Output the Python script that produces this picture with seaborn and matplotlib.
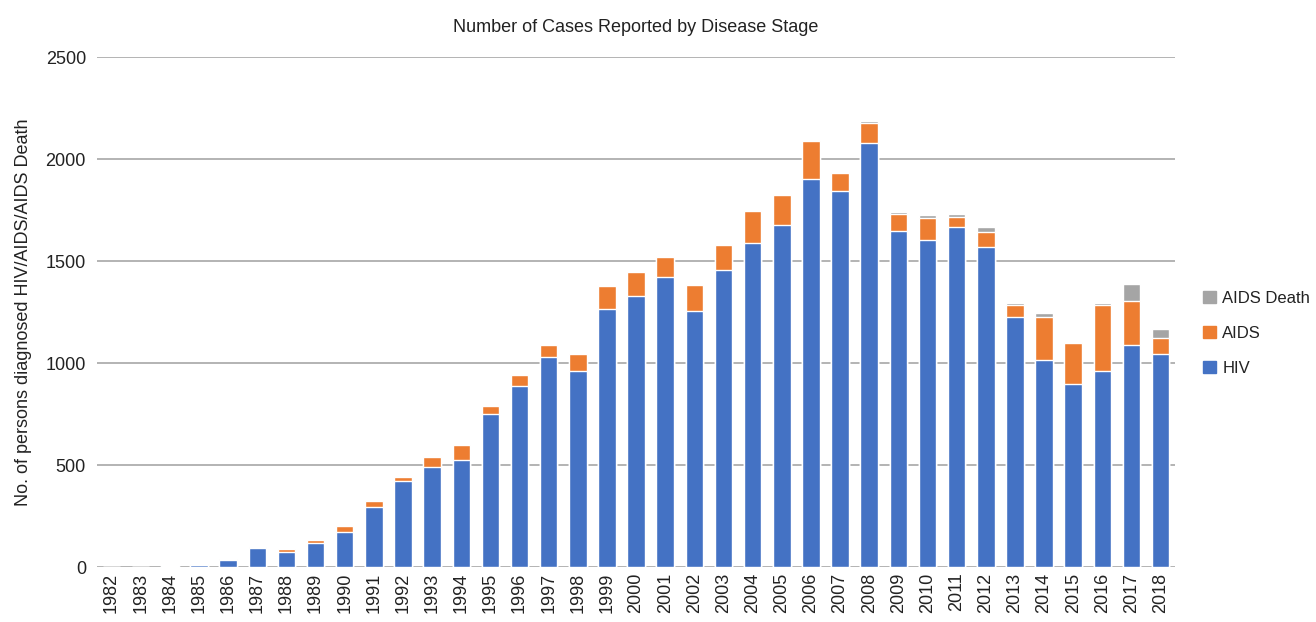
import matplotlib
matplotlib.use("Agg")
import matplotlib.pyplot as plt
from matplotlib.patches import Patch
import seaborn as sns
import pandas as pd
import numpy as np

years = [str(y) for y in range(1982, 2019)]
hiv = [2, 2, 3, 10, 36, 93, 72, 118, 171, 295, 421, 490, 526, 752, 889, 1031, 963,
       1265, 1328, 1421, 1255, 1456, 1590, 1676, 1905, 1843, 2077, 1646, 1603, 1667,
       1569, 1227, 1015, 897, 961, 1088, 1046]
aids = [0, 0, 0, 4, 5, 7, 18, 13, 28, 27, 19, 49, 74, 39, 54, 56, 81,
        113, 118, 98, 127, 125, 158, 149, 182, 87, 99, 86, 109, 50,
        73, 59, 209, 200, 323, 217, 78]
aids_death = [0, 0, 0, 0, 0, 0, 0, 0, 0, 0, 0, 0, 0, 0, 0, 0, 0,
              0, 0, 2, 0, 2, 3, 6, 2, 5, 10, 8, 12, 12,
              23, 8, 21, 7, 10, 81, 41]

df = pd.DataFrame({"Year": years, "HIV": hiv, "AIDS": aids, "AIDS Death": aids_death})
df["lvl_aids"] = df["HIV"] + df["AIDS"]
df["lvl_death"] = df["lvl_aids"] + df["AIDS Death"]

c_hiv = "#4472C4"
c_aids = "#ED7D31"
c_death = "#A5A5A5"

sns.set_theme(style="white")
plt.rcParams["font.family"] = ["Liberation Sans Narrow", "Liberation Sans", "DejaVu Sans"]

fig = plt.figure(figsize=(13.16, 6.22), dpi=100)
ax = fig.add_axes([0.0737, 0.0884, 0.8193, 0.8196])

sns.barplot(data=df, x="Year", y="lvl_death", color=c_death, width=0.6,
            saturation=1, ax=ax, zorder=3)
sns.barplot(data=df, x="Year", y="lvl_aids", color=c_aids, width=0.6,
            saturation=1, ax=ax, zorder=3)
sns.barplot(data=df, x="Year", y="HIV", color=c_hiv, width=0.6,
            saturation=1, ax=ax, zorder=3)

ax.set_ylim(0, 2500)
ax.set_xlim(-0.5, len(years) - 0.5)
ax.set_yticks([0, 500, 1000, 1500, 2000, 2500])
ax.yaxis.grid(True, color="#b3b3b3", linewidth=1.4, zorder=0)
ax.set_axisbelow(True)
for s in ax.spines.values():
    s.set_visible(False)
ax.tick_params(axis="both", length=0, labelsize=13, colors="#222222")
ax.tick_params(axis="y", pad=8)
ax.tick_params(axis="x", pad=4)
plt.setp(ax.get_xticklabels(), rotation=90)
ax.set_xlabel("")
ax.set_ylabel("No. of persons diagnosed HIV/AIDS/AIDS Death", fontsize=13,
              color="#222222", labelpad=10)
ax.set_title("Number of Cases Reported by Disease Stage", fontsize=13,
             color="#222222", pad=18)

handles = [Patch(color=c_death, label="AIDS Death"),
           Patch(color=c_aids, label="AIDS"),
           Patch(color=c_hiv, label="HIV")]
leg = ax.legend(handles=handles, loc="center left", bbox_to_anchor=(1.012, 0.459),
                frameon=False, fontsize=12, handlelength=0.75, handleheight=0.75,
                handletextpad=0.4, labelspacing=1.2)
for t in leg.get_texts():
    t.set_color("#222222")

fig.savefig("out.png", dpi=100)
